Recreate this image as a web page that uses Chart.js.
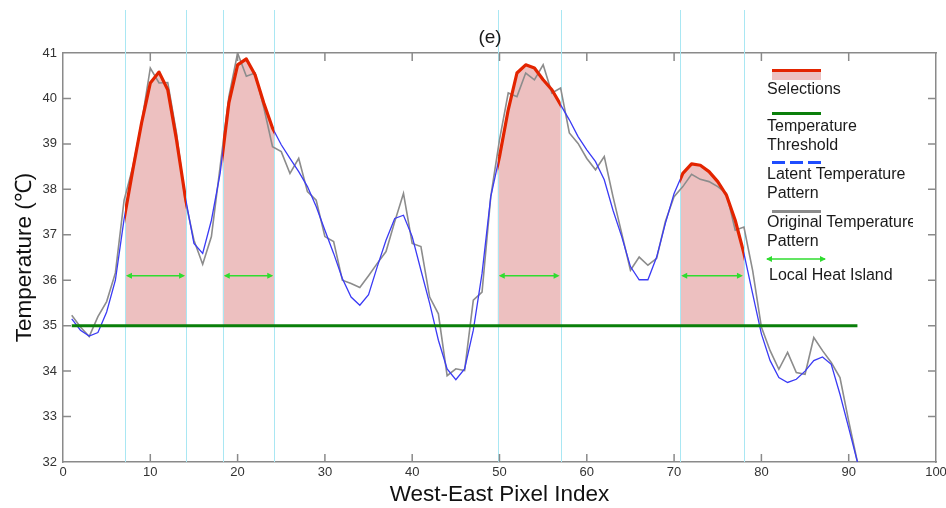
<!DOCTYPE html>
<html>
<head>
<meta charset="utf-8">
<script src="https://cdn.jsdelivr.net/npm/chart.js@4.4.1/dist/chart.umd.min.js"></script>
<style>
  html, body { margin: 0; padding: 0; background: #fff; }
  #wrap { position: relative; width: 946px; height: 508px; font-family: "Liberation Sans", Arial, sans-serif; color: #1a1a1a; }
  #wrap canvas { position: absolute; left: 0; top: 0; }
  .ov { position: absolute; white-space: nowrap; }
  .txt { font-size: 16px; line-height: 19px; }
  #title { left: 440px; top: 26px; width: 100px; text-align: center; font-size: 19px; }
  .sw { position: absolute; left: 772px; width: 49px; height: 3px; }
</style>
</head>
<body>
<div id="wrap">
  <canvas id="myChart" width="946" height="508"></canvas>
  <div id="title" class="ov">(e)</div>

  <!-- legend, MATLAB style: sample above the label -->
  <div class="sw" style="top:69px;height:11px;background:#edc0c0;border-top:3px solid #e32400;box-sizing:border-box;"></div>
  <div class="ov txt" style="left:767px;top:79px;">Selections</div>

  <div class="sw" style="top:112px;background:#0a7f0a;"></div>
  <div class="ov txt" style="left:767px;top:116px;">Temperature<br>Threshold</div>

  <div class="sw" style="top:161px;background:repeating-linear-gradient(90deg,#1f4dff 0 13px,transparent 13px 18px);"></div>
  <div class="ov txt" style="left:767px;top:164px;">Latent Temperature<br>Pattern</div>

  <div class="sw" style="top:210px;background:#8c8c8c;"></div>
  <div class="ov txt" style="left:767px;top:212px;width:146px;overflow:hidden;">Original Temperature<br>Pattern</div>

  <svg class="ov" style="left:764px;top:253px;" width="64" height="12">
    <line x1="3" y1="6" x2="61" y2="6" stroke="#2fdc2f" stroke-width="1.6"/>
    <path d="M2 6 L8 3 L8 9 Z M62 6 L56 3 L56 9 Z" fill="#2fdc2f"/>
  </svg>
  <div class="ov txt" style="left:769px;top:265px;">Local Heat Island</div>
</div>

<script>
// pixel index runs 1..91 along the west-east profile
const latentTemp = [
  35.15, 34.90, 34.77, 34.85, 35.30, 36.00, 37.35, 38.43, 39.46, 40.34,
  40.58, 40.19, 39.09, 37.84, 36.81, 36.59, 37.32, 38.35, 39.90, 40.74,
  40.87, 40.52, 39.90, 39.35, 38.98, 38.68, 38.39, 38.06, 37.62, 37.10,
  36.59, 36.04, 35.63, 35.45, 35.68, 36.30, 36.88, 37.36, 37.43, 36.96,
  36.22, 35.49, 34.68, 34.05, 33.81, 34.05, 34.90, 36.15, 37.84, 38.72,
  39.75, 40.56, 40.74, 40.67, 40.41, 40.19, 39.86, 39.53, 39.16, 38.87,
  38.61, 38.21, 37.54, 36.96, 36.30, 36.01, 36.01, 36.51, 37.25, 37.91,
  38.35, 38.56, 38.53, 38.39, 38.17, 37.87, 37.32, 36.59, 35.70, 34.82,
  34.23, 33.86, 33.75, 33.82, 34.00, 34.23, 34.31, 34.15, 33.49, 32.75,
  32.00
];
const originalTemp = [
  35.23, 34.97, 34.76, 35.20, 35.53, 36.16, 37.76, 38.50, 39.46, 40.67,
  40.34, 40.35, 39.24, 37.76, 36.88, 36.35, 36.96, 38.50, 40.04, 41.00,
  40.49, 40.56, 39.80, 38.94, 38.83, 38.35, 38.68, 37.95, 37.76, 36.96,
  36.85, 36.00, 35.93, 35.84, 36.10, 36.37, 36.63, 37.29, 37.91, 36.81,
  36.74, 35.63, 35.26, 33.90, 34.05, 34.01, 35.56, 35.74, 37.84, 39.09,
  40.12, 40.04, 40.56, 40.41, 40.74, 40.12, 40.23, 39.24, 39.01, 38.68,
  38.43, 38.72, 37.84, 37.03, 36.22, 36.51, 36.33, 36.48, 37.29, 37.84,
  38.06, 38.33, 38.22, 38.17, 38.06, 37.91, 37.10, 37.17, 36.21, 34.97,
  34.45, 34.04, 34.41, 33.97, 33.93, 34.74, 34.45, 34.19, 33.86, 32.90,
  32.00
];

// selected heat islands (pixel index bounds)
const selStart = [7.1, 18.3, 49.8, 70.7];
const selEnd = [14.1, 24.2, 57.0, 78.0];
const islandArrowTemp = 36.1;

const threshold = 35;
const thresholdSpan = [1, 91];

const xTicks = [0, 10, 20, 30, 40, 50, 60, 70, 80, 90, 100];
const yTicks = [32, 33, 34, 35, 36, 37, 38, 39, 40, 41];

const toPoints = arr => arr.map((v, i) => ({ x: i + 1, y: v }));

const axisGray = '#8a8a8a';

// pink fill + red line on the selections, cyan guides, inward ticks, arrows
const selectionPlugin = {
  id: 'selectionPlugin',
  beforeDatasetsDraw(chart) {
    const { ctx, chartArea: a, scales: { x, y } } = chart;
    const pts = chart.getDatasetMeta(1).data;
    const base = y.getPixelForValue(threshold);
    ctx.save();
    ctx.fillStyle = '#edc0c0';
    selStart.forEach((s, k) => {
      const x0 = x.getPixelForValue(s), x1 = x.getPixelForValue(selEnd[k]);
      ctx.save();
      ctx.beginPath();
      ctx.rect(x0, a.top, x1 - x0, base - a.top);
      ctx.clip();
      ctx.beginPath();
      ctx.moveTo(pts[0].x, base);
      pts.forEach(p => ctx.lineTo(p.x, p.y));
      ctx.lineTo(pts[pts.length - 1].x, base);
      ctx.closePath();
      ctx.fill();
      ctx.restore();
    });

    ctx.strokeStyle = '#a9e7f3';
    ctx.lineWidth = 1;
    selStart.concat(selEnd).forEach(v => {
      const px = Math.round(x.getPixelForValue(v)) + 0.5;
      ctx.beginPath();
      ctx.moveTo(px, 10);
      ctx.lineTo(px, a.bottom);
      ctx.stroke();
    });

    // matlab-like inward ticks on all four sides
    ctx.strokeStyle = axisGray;
    ctx.lineWidth = 1.5;
    const len = 8;
    xTicks.slice(1, -1).forEach(v => {
      const px = x.getPixelForValue(v);
      ctx.beginPath();
      ctx.moveTo(px, a.bottom); ctx.lineTo(px, a.bottom - len);
      ctx.moveTo(px, a.top); ctx.lineTo(px, a.top + len);
      ctx.stroke();
    });
    yTicks.slice(1, -1).forEach(v => {
      const py = y.getPixelForValue(v);
      ctx.beginPath();
      ctx.moveTo(a.left, py); ctx.lineTo(a.left + len, py);
      ctx.moveTo(a.right, py); ctx.lineTo(a.right - len, py);
      ctx.stroke();
    });
    ctx.restore();
  },
  afterDatasetsDraw(chart) {
    const { ctx, chartArea: a, scales: { x, y } } = chart;
    const pts = chart.getDatasetMeta(1).data;
    ctx.save();
    ctx.strokeStyle = '#e32400';
    ctx.lineWidth = 3.2;
    ctx.lineJoin = 'round';
    selStart.forEach((s, k) => {
      const x0 = x.getPixelForValue(s), x1 = x.getPixelForValue(selEnd[k]);
      ctx.save();
      ctx.beginPath();
      ctx.rect(x0, a.top - 5, x1 - x0, a.bottom - a.top + 5);
      ctx.clip();
      ctx.beginPath();
      pts.forEach((p, i) => i ? ctx.lineTo(p.x, p.y) : ctx.moveTo(p.x, p.y));
      ctx.stroke();
      ctx.restore();
    });

    const yy = y.getPixelForValue(islandArrowTemp);
    ctx.strokeStyle = ctx.fillStyle = '#2fdc2f';
    ctx.lineWidth = 1.6;
    selStart.forEach((s, k) => {
      const x0 = x.getPixelForValue(s) + 1, x1 = x.getPixelForValue(selEnd[k]) - 1;
      ctx.beginPath();
      ctx.moveTo(x0 + 2, yy); ctx.lineTo(x1 - 2, yy);
      ctx.stroke();
      ctx.beginPath();
      ctx.moveTo(x0, yy); ctx.lineTo(x0 + 6, yy - 3); ctx.lineTo(x0 + 6, yy + 3); ctx.closePath();
      ctx.moveTo(x1, yy); ctx.lineTo(x1 - 6, yy - 3); ctx.lineTo(x1 - 6, yy + 3); ctx.closePath();
      ctx.fill();
    });
    ctx.restore();
  }
};

const tickFont = { family: '"Liberation Sans", Arial, sans-serif', size: 13 };
const titleFont = { family: '"Liberation Sans", Arial, sans-serif', size: 22.5 };

// keep the plot box fixed: no extra side padding for the "100" label
const noSidePad = s => { s.paddingLeft = 0; s.paddingRight = 0; };

new Chart(document.getElementById('myChart'), {
  type: 'line',
  data: {
    datasets: [
      {
        label: 'Temperature Threshold',
        data: thresholdSpan.map(v => ({ x: v, y: threshold })),
        borderColor: '#0a7f0a',
        borderWidth: 3,
        pointRadius: 0,
        order: 0
      },
      {
        label: 'Latent Temperature Pattern',
        data: toPoints(latentTemp),
        borderColor: '#3a3af5',
        borderWidth: 1.3,
        pointRadius: 0,
        order: 1
      },
      {
        label: 'Original Temperature Pattern',
        data: toPoints(originalTemp),
        borderColor: '#8c8c8c',
        borderWidth: 1.6,
        pointRadius: 0,
        order: 2
      }
    ]
  },
  options: {
    responsive: false,
    devicePixelRatio: 1,
    animation: false,
    layout: { padding: { top: 53, left: 0, right: 0, bottom: 0 } },
    plugins: {
      legend: { display: false },
      tooltip: { enabled: false },
      title: { display: false }
    },
    scales: {
      x: {
        type: 'linear',
        position: 'bottom',
        min: 0,
        max: 100,
        afterBuildTicks: s => { s.ticks = xTicks.map(v => ({ value: v })); },
        ticks: { font: tickFont, color: '#333', padding: 3, maxRotation: 0 },
        grid: { drawOnChartArea: false, drawTicks: false },
        border: { color: axisGray, width: 1.5 },
        title: { display: true, text: 'West-East Pixel Index', font: titleFont, color: '#111', padding: { top: 0, bottom: 0 } },
        afterFit: s => { s.height = 46; noSidePad(s); }
      },
      xTop: {
        type: 'linear',
        position: 'top',
        min: 0,
        max: 100,
        ticks: { display: false },
        grid: { drawOnChartArea: false, drawTicks: false },
        border: { color: axisGray, width: 1.5 },
        afterFit: s => { s.height = 0; noSidePad(s); }
      },
      y: {
        position: 'left',
        min: 32,
        max: 41,
        afterBuildTicks: s => { s.ticks = yTicks.map(v => ({ value: v })); },
        ticks: { font: tickFont, color: '#333', padding: 6 },
        grid: { drawOnChartArea: false, drawTicks: false },
        border: { color: axisGray, width: 1.5 },
        title: { display: true, text: 'Temperature (℃)', font: titleFont, color: '#111', padding: { top: 11, bottom: 0 } },
        afterFit: s => { s.width = 63; }
      },
      yRight: {
        position: 'right',
        min: 32,
        max: 41,
        ticks: { display: false },
        grid: { drawOnChartArea: false, drawTicks: false },
        border: { color: axisGray, width: 1.5 },
        afterFit: s => { s.width = 10; }
      }
    }
  },
  plugins: [selectionPlugin]
});
</script>
</body>
</html>
